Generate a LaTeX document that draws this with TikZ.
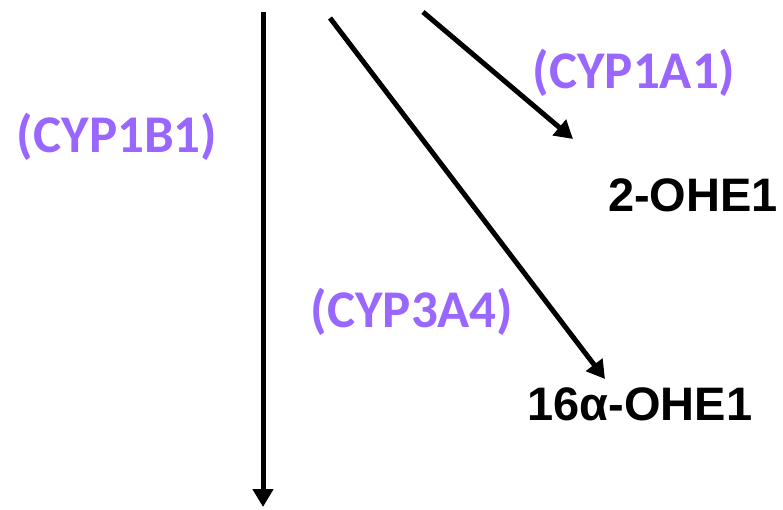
\documentclass[tikz,border=0pt]{standalone}
\usepackage{fontspec}
\setmainfont{Liberation Sans}
\newfontfamily\enzfont{Carlito}
\usetikzlibrary{arrows.meta}
\definecolor{enz}{HTML}{9966FF}
\tikzset{
  enzyme/.style={font=\enzfont\bfseries\fontsize{53}{60}\selectfont, text=enz, inner sep=0pt},
  product/.style={font=\bfseries\fontsize{47}{54}\selectfont, text=black, inner sep=0pt},
  rxn/.style={line width=5pt, -{Triangle[length=18pt,width=20pt]}}
}
\begin{document}
\begin{tikzpicture}[x=1pt,y=-1pt]
\useasboundingbox (0,0) rectangle (783,509);
\coordinate (s1) at (263,12);
\coordinate (e1) at (263,507);
\coordinate (s2) at (330,18);
\coordinate (e2) at (605,379);
\coordinate (s3) at (423,12);
\coordinate (e3) at (573,139);
\node[enzyme] (b1) at (117,137) {(CYP1B1)};
\node[enzyme] (a1) at (634,73) {(CYP1A1)};
\node[enzyme] (a4) at (412,312) {(CYP3A4)};
\node[product] (oh2) at (693,195) {2-OHE1};
\node[product] (oh16) at (640,404) {16α-OHE1};
\draw[rxn] (s1) -- (e1);
\draw[rxn] (s2) -- (e2);
\draw[rxn] (s3) -- (e3);
\end{tikzpicture}
\end{document}
